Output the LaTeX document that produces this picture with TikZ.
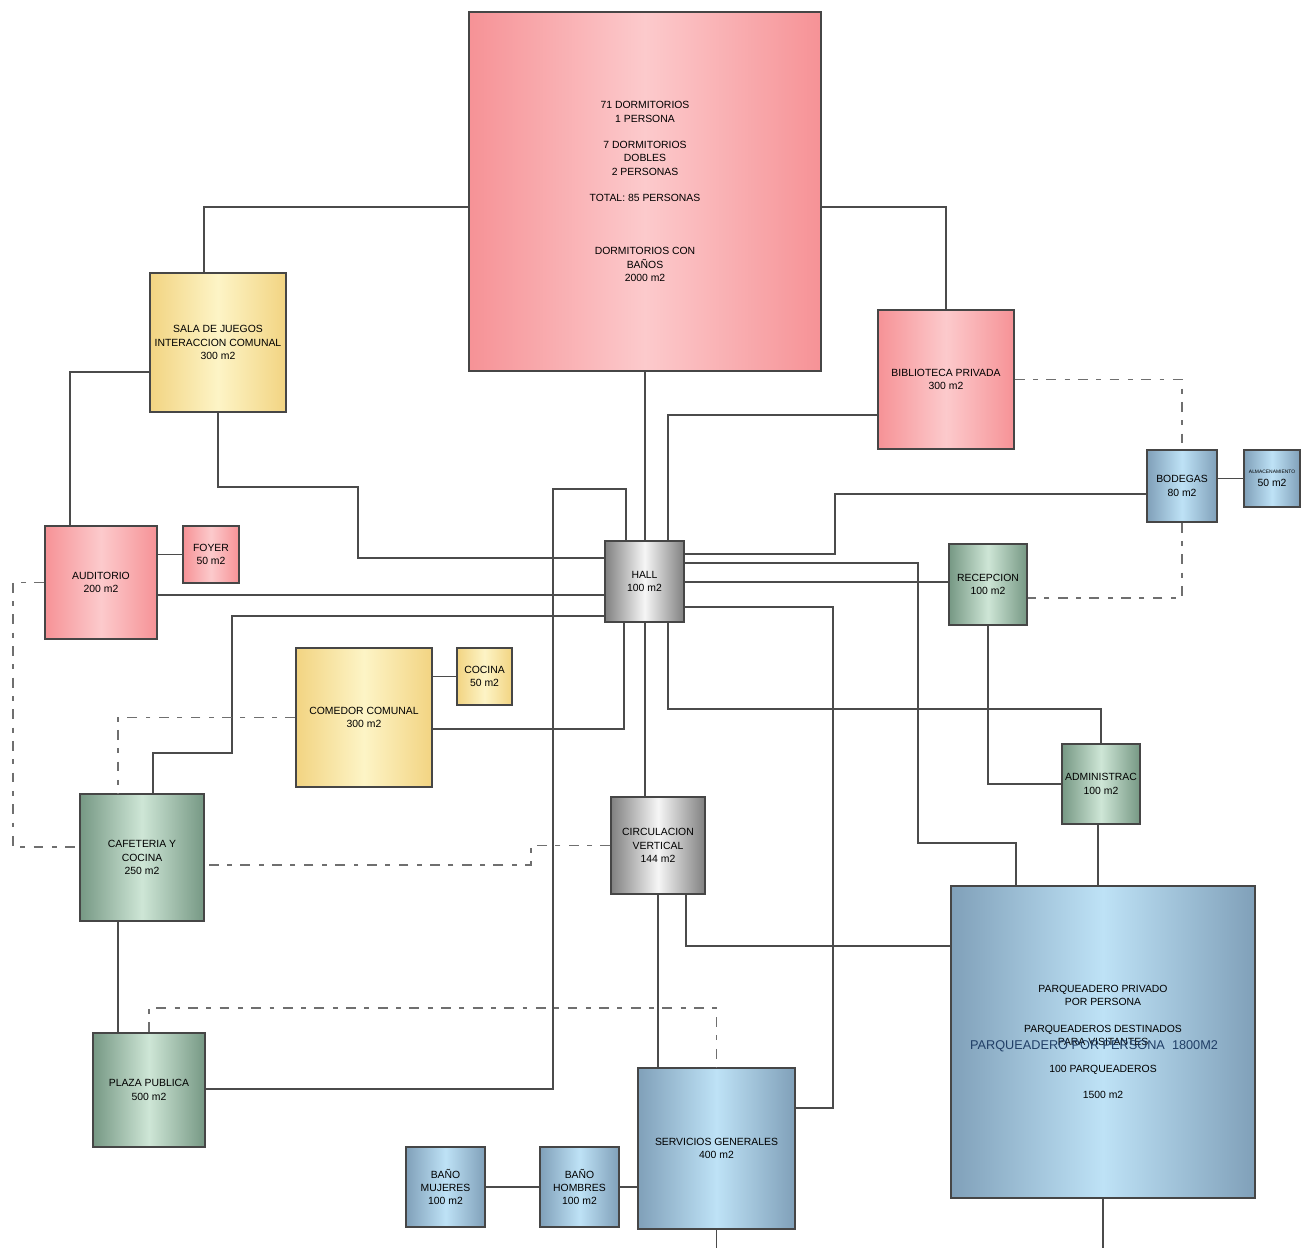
\documentclass[tikz,border=0pt]{standalone}
\usepackage{fontspec}
\setmainfont{Liberation Sans}
\usepackage{tikz}
\usetikzlibrary{positioning}
\definecolor{borde}{RGB}{70,70,70}
\definecolor{linea}{RGB}{75,75,75}
\definecolor{rosaosc}{RGB}{246,146,150}
\definecolor{rosaclaro}{RGB}{252,202,204}
\definecolor{amaosc}{RGB}{242,212,130}
\definecolor{amaclaro}{RGB}{253,244,198}
\definecolor{verdeosc}{RGB}{118,152,132}
\definecolor{verdeclaro}{RGB}{206,230,214}
\definecolor{grisosc}{RGB}{128,128,128}
\definecolor{grisclaro}{RGB}{246,246,246}
\definecolor{azulosc}{RGB}{128,160,185}
\definecolor{azulclaro}{RGB}{190,226,246}
\definecolor{tituloazul}{RGB}{32,62,102}
\newcommand{\rotulo}{\fontsize{2.96pt}{3.78pt}\selectfont}
\newcommand{\minirotulo}{\fontsize{1.4pt}{2pt}\selectfont}

\begin{document}
\begin{tikzpicture}[
  room/.style={rectangle, draw=borde, line width=0.4pt, inner sep=0pt,
    text=black, font=\rotulo, align=center},
  rosabox/.style={room, left color=rosaosc, right color=rosaosc, middle color=rosaclaro},
  amabox/.style={room, left color=amaosc, right color=amaosc, middle color=amaclaro},
  verdebox/.style={room, left color=verdeosc, right color=verdeosc, middle color=verdeclaro},
  grisbox/.style={room, left color=grisosc, right color=grisosc, middle color=grisclaro},
  azulbox/.style={room, left color=azulosc, right color=azulosc, middle color=azulclaro},
  conn/.style={draw=linea, line width=0.4pt},
  dconn/.style={draw=linea!80, line width=0.4pt, dash pattern=on 2.8pt off 2.4pt on 1.4pt off 2.4pt}
]
\useasboundingbox (0,0) rectangle (13.06,-12.48);
\node[rosabox, minimum width=3.52cm, minimum height=3.59cm] (dorm) at (6.45,-1.915)
  {71 DORMITORIOS\\1 PERSONA\\[3.78pt]7 DORMITORIOS\\DOBLES\\2 PERSONAS\\[3.78pt]TOTAL: 85 PERSONAS\\[11.34pt]DORMITORIOS CON\\BAÑOS\\2000 m2};
\node[amabox, minimum width=1.36cm, minimum height=1.39cm] (sala) at (2.18,-3.425) {SALA DE JUEGOS\\INTERACCION COMUNAL\\300 m2};
\node[rosabox, minimum width=1.36cm, minimum height=1.39cm] (bibl) at (9.46,-3.795) {BIBLIOTECA PRIVADA\\300 m2};
\node[azulbox, minimum width=0.70cm, minimum height=0.72cm] (bode) at (11.82,-4.86) {BODEGAS\\80 m2};
\node[azulbox, minimum width=0.56cm, minimum height=0.57cm] (alma) at (12.72,-4.785) {{\minirotulo ALMACENAMIENTO}\\50 m2};
\node[rosabox, minimum width=1.12cm, minimum height=1.13cm] (audi) at (1.01,-5.825) {AUDITORIO\\200 m2};
\node[rosabox, minimum width=0.56cm, minimum height=0.57cm] (foyer) at (2.11,-5.545) {FOYER\\50 m2};
\node[grisbox, minimum width=0.79cm, minimum height=0.81cm] (hall) at (6.445,-5.815) {HALL\\100 m2};
\node[verdebox, minimum width=0.78cm, minimum height=0.81cm] (rece) at (9.88,-5.845) {RECEPCION\\100 m2};
\node[amabox, minimum width=1.36cm, minimum height=1.39cm] (come) at (3.64,-7.175) {COMEDOR COMUNAL\\300 m2};
\node[amabox, minimum width=0.55cm, minimum height=0.57cm] (cocina) at (4.845,-6.765) {COCINA\\50 m2};
\node[verdebox, minimum width=0.78cm, minimum height=0.80cm] (admi) at (11.01,-7.84) {ADMINISTRAC\\100 m2};
\node[verdebox, minimum width=1.24cm, minimum height=1.27cm] (cafe) at (1.42,-8.575) {CAFETERIA Y\\COCINA\\250 m2};
\node[grisbox, minimum width=0.94cm, minimum height=0.97cm] (circ) at (6.58,-8.455) {CIRCULACION\\VERTICAL\\144 m2};
\node[verdebox, minimum width=1.12cm, minimum height=1.14cm] (plaza) at (1.49,-10.90) {PLAZA PUBLICA\\500 m2};
\node[azulbox, minimum width=3.04cm, minimum height=3.12cm] (parq) at (11.03,-10.42)
  {PARQUEADERO PRIVADO\\POR PERSONA\\[3.78pt]PARQUEADEROS DESTINADOS\\PARA VISITANTES\\[3.78pt]100 PARQUEADEROS\\[3.78pt]1500 m2};
\node[text=tituloazul, font=\fontsize{3.62pt}{4pt}\selectfont] (parqtitulo) at (10.94,-10.46) {PARQUEADERO POR PERSONA\ \ 1800M2};
\node[azulbox, minimum width=1.57cm, minimum height=1.61cm] (serv) at (7.165,-11.485) {SERVICIOS GENERALES\\400 m2};
\node[azulbox, minimum width=0.79cm, minimum height=0.80cm] (bmuj) at (4.455,-11.87) {BAÑO\\MUJERES\\100 m2};
\node[azulbox, minimum width=0.79cm, minimum height=0.80cm] (bhom) at (5.795,-11.87) {BAÑO\\HOMBRES\\100 m2};
\coordinate (finserv) at (7.165,-12.48);
\coordinate (finparq) at (11.03,-12.48);
% conexiones
\draw[conn] (dorm.west |- 0,-2.07) -| (2.04,0 |- sala.north);
\draw[conn] (dorm.east |- 0,-2.07) -| (bibl.north);
\draw[conn] (sala.west |- 0,-3.72) -| (0.70,0 |- audi.north);
\draw[conn] (sala.south) |- (3.58,-4.87) |- (hall.west |- 0,-5.58);
\draw[conn] (audi.east |- foyer.west) -- (foyer.west);
\draw[conn] (audi.east |- 0,-5.95) -- (hall.west |- 0,-5.95);
\draw[dconn] (audi.west) -| (0.13,-8.47) -- (cafe.west |- 0,-8.47);
\draw[conn] (hall.west |- 0,-6.16) -| (2.32,-7.53) -| (1.53,0 |- cafe.north);
\draw[dconn] (come.west) -| (1.18,0 |- cafe.north);
\draw[conn] (come.east |- cocina.west) -- (cocina.west);
\draw[conn] (come.east |- 0,-7.29) -| (6.24,0 |- hall.south);
\draw[conn] (plaza.east |- 0,-10.89) -| (5.53,-4.89) -| (6.26,0 |- hall.north);
\draw[conn] (dorm.south) -- (dorm.south |- hall.north);
\draw[conn] (bibl.west |- 0,-4.15) -| (6.68,0 |- hall.north);
\draw[conn] (hall.east |- 0,-5.54) -| (8.35,-4.94) -- (bode.west |- 0,-4.94);
\draw[conn] (hall.east |- 0,-5.63) -| (9.18,-8.43) -| (10.16,0 |- parq.north);
\draw[conn] (hall.east |- 0,-5.82) -- (rece.west |- 0,-5.82);
\draw[conn] (hall.east |- 0,-6.07) -| (8.33,-11.08) -- (serv.east |- 0,-11.08);
\draw[conn] (6.68,0 |- hall.south) |- (admi.north |- 0,-7.09) -- (admi.north);
\draw[conn] (6.45,0 |- hall.south) -- (6.45,0 |- circ.north);
\draw[conn] (rece.south) |- (admi.west);
\draw[conn] (10.98,0 |- admi.south) -- (10.98,0 |- parq.north);
\draw[dconn] (bibl.east) -| (bode.north);
\draw[dconn] (bode.south) |- (rece.east |- 0,-5.98);
\draw[conn] (bode.east |- alma.west) -- (alma.west);
\draw[conn] (circ.south) -- (circ.south |- serv.north);
\draw[conn] (6.86,0 |- circ.south) |- (parq.west |- 0,-9.46);
\draw[dconn] (circ.west) -| (5.31,-8.65) -- (cafe.east |- 0,-8.65);
\draw[conn] (1.18,0 |- cafe.south) -- (1.18,0 |- plaza.north);
\draw[dconn] (plaza.north) |- (serv.north |- 0,-10.08) -- (serv.north);
\draw[conn] (serv.west |- bhom.east) -- (bhom.east);
\draw[conn] (bhom.west) -- (bmuj.east);
\draw[conn] (serv.south) -- (finserv);
\draw[conn] (parq.south) -- (finparq);
\end{tikzpicture}
\end{document}
